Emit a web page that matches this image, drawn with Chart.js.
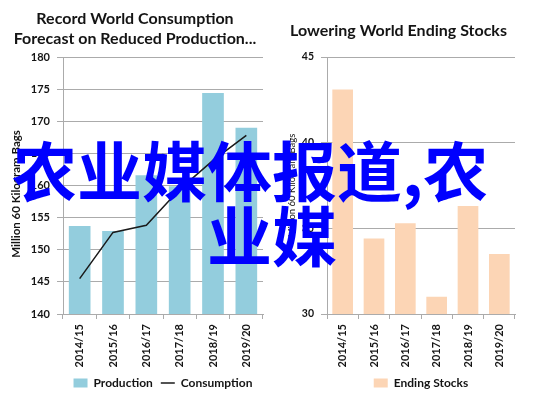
<!DOCTYPE html>
<html><head><meta charset="utf-8">
<script src="https://cdn.jsdelivr.net/npm/chart.js@4"></script>
<style>
html,body{margin:0;padding:0;background:#fff;}
#wrap{position:relative;width:537px;height:399px;overflow:hidden;}
.c{position:absolute;top:0;height:399px;}
#c1box{left:7px;width:261px;}
#c2box{left:282px;width:255px;}
.ov{position:absolute;font-family:"Noto Sans CJK SC";font-size:65px;line-height:65px;color:#0000ff;white-space:nowrap;font-weight:700;z-index:5;}
</style></head>
<body>
<div id="wrap">
<div class="c" id="c1box"><canvas id="c1" width="261" height="399"></canvas></div>
<div class="c" id="c2box"><canvas id="c2" width="255" height="399"></canvas></div>
<div class="ov" style="left:12px;top:136px">农业媒体报道,农</div>
<div class="ov" style="left:207px;top:201px">业媒</div>
</div>
<script>
const categories = ['2014/15','2015/16','2016/17','2017/18','2018/19','2019/20'];
const production = [153.7, 152.9, 161.6, 159.9, 174.4, 169.0];
const consumption = [145.5, 152.7, 153.8, 159.4, 163.9, 167.8];
const endingStocks = [43.1, 34.4, 35.3, 31.0, 36.3, 33.5];
const leftTicks = [140, 145, 150, 155, 160, 165, 170, 175, 180];
const rightTicks = [30, 35, 40, 45];
const leftTitle = ['Record World Consumption', 'Forecast on Reduced Production...'];
const rightTitle = 'Lowering World Ending Stocks';
const yTitle = 'Million 60 Kilogram Bags';

const FONT = 'Lato, "Liberation Sans", sans-serif';
const TXT = '#141414';
const GRID = '#ababab';
const PLOT_BOTTOM = 314;
const PAD_BOTTOM = 0;

Chart.defaults.font.family = FONT;
Chart.defaults.color = TXT;

function legendLabels(styles) {
  return function(chart) {
    const items = Chart.defaults.plugins.legend.labels.generateLabels(chart);
    items.sort((a, b) => a.datasetIndex - b.datasetIndex);
    items.forEach(it => { it.pointStyle = styles[it.datasetIndex]; });
    return items;
  };
}

function makeOptions(cfg) {
  return {
    responsive: false,
    animation: false,
    layout: { padding: { left: 0, right: cfg.padRight, top: 0, bottom: PAD_BOTTOM } },
    plugins: {
      title: {
        display: true, text: cfg.title, color: TXT,
        font: { size: 16, weight: 'bold', lineHeight: '20px' },
        padding: cfg.titlePad
      },
      legend: {
        position: 'bottom',
        fullSize: false,
        labels: {
          color: TXT,
          font: { size: 12, weight: 'bold' },
          usePointStyle: true, boxHeight: 9, pointStyleWidth: 14, padding: 8,
          generateLabels: legendLabels(cfg.legendStyles)
        }
      },
      tooltip: { enabled: false }
    },
    scales: {
      x: {
        grid: { offset: true, drawOnChartArea: false, drawTicks: true, tickLength: 5, color: GRID },
        border: { color: GRID },
        ticks: { minRotation: 90, maxRotation: 90, autoSkip: false, padding: 5, color: TXT,
                 font: { size: 11, weight: 'bold' } },
        afterFit: s => {
          const lh = (s.chart.legend && s.chart.legend.height) ? s.chart.legend.height : 30;
          s.height = 399 - PAD_BOTTOM - lh - PLOT_BOTTOM;
        }
      },
      y: {
        min: cfg.ticks[0], max: cfg.ticks[cfg.ticks.length - 1],
        afterBuildTicks: s => { s.ticks = cfg.ticks.map(v => ({ value: v })); },
        grid: { color: GRID, tickLength: 6, drawTicks: true },
        border: { color: GRID },
        ticks: { padding: 7, color: TXT, font: { size: cfg.yTickSize, weight: 'bold' } },
        title: { display: true, text: yTitle + cfg.yTitleTail, color: TXT,
                 font: { size: cfg.yTitleSize, weight: cfg.yTitleWeight },
                 padding: { top: cfg.yTitlePad, bottom: 2 } },
        afterFit: s => { s.width = cfg.yWidth; }
      }
    }
  };
}

new Chart(document.getElementById('c1'), {
  type: 'bar',
  data: {
    labels: categories,
    datasets: [
      { type: 'bar', label: 'Production', data: production, backgroundColor: '#93CDDD',
        borderWidth: 0, barPercentage: 0.65, categoryPercentage: 1, order: 2 },
      { type: 'line', label: 'Consumption', data: consumption, borderColor: '#1a1a1a',
        backgroundColor: '#1a1a1a', borderWidth: 1.5, pointRadius: 0, tension: 0, fill: false, order: 1 }
    ]
  },
  options: makeOptions({
    title: leftTitle, titlePad: { top: 9, bottom: 8 }, ticks: leftTicks, yWidth: 56,
    yTickSize: 11, yTitleSize: 11.5, yTitleWeight: 'bold', yTitlePad: 2, padRight: 5,
    yTitleTail: '\u00a0\u00a0\u00a0\u00a0\u00a0\u00a0',
    legendStyles: ['rect', 'line']
  })
});

new Chart(document.getElementById('c2'), {
  type: 'bar',
  data: {
    labels: categories,
    datasets: [
      { label: 'Ending Stocks', data: endingStocks, backgroundColor: '#FCD5B5',
        borderWidth: 0, barPercentage: 0.66, categoryPercentage: 1 }
    ]
  },
  options: makeOptions({
    title: rightTitle, titlePad: { top: 21, bottom: 16 }, ticks: rightTicks, yWidth: 45,
    yTickSize: 10.5, yTitleSize: 9.5, yTitleWeight: 'normal', yTitlePad: 4, padRight: 22,
    yTitleTail: '',
    legendStyles: ['rect']
  })
});
</script>
</body></html>
